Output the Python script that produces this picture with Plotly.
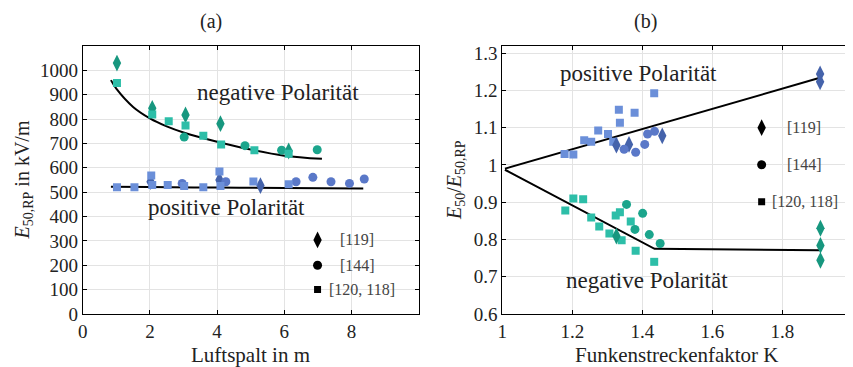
import plotly.graph_objects as go

# ---------------- Panel (a) data ----------------
a_neg_dia_x = [1.02, 2.07, 3.06, 4.10, 6.13]
a_neg_dia_y = [1030, 844, 817, 781, 669]
a_neg_cir_x = [3.02, 4.83, 5.92, 6.98]
a_neg_cir_y = [726, 691, 672, 674]
a_neg_sq_x = [1.02, 2.07, 2.56, 3.06, 3.59, 4.12, 5.11, 6.13]
a_neg_sq_y = [948, 819, 791, 774, 732, 696, 672, 658]
a_neg_fit_x = [0.84, 1.0, 1.5, 2.0, 2.5, 3.0, 4.0, 5.0, 6.0, 7.12]
a_neg_fit_y = [960, 925, 850, 803, 770, 745, 707, 675, 650, 637]

a_pos_dia_x = [2.02, 4.07, 5.29]
a_pos_dia_y = [543, 550, 527]
a_pos_cir_x = [2.96, 4.26, 6.35, 6.85, 7.39, 7.94, 8.38]
a_pos_cir_y = [536, 543, 543, 561, 543, 536, 554]
a_pos_sq_x = [1.02, 1.54, 2.04, 2.07, 2.53, 3.02, 3.59, 4.07, 4.10, 5.08, 6.13]
a_pos_sq_y = [520, 520, 568, 529, 529, 525, 520, 585, 525, 544, 533]
a_pos_fit_x = [0.84, 2.0, 4.0, 6.0, 8.35]
a_pos_fit_y = [522, 521, 519, 517, 515]

a_x_ticks = [0, 2, 4, 6, 8]
a_y_ticks = [0, 100, 200, 300, 400, 500, 600, 700, 800, 900, 1000]

a_leg_x = [6.99, 6.99, 6.99]
a_leg_y = [304, 200, 101]
a_leg_labels = ["[119]", "[144]", "[120, 118]"]
a_leg_label_x = [7.6, 7.6, 7.28]

# ---------------- Panel (b) data ----------------
b_pos_sq_x = [1.178, 1.203, 1.234, 1.254, 1.274, 1.302, 1.317, 1.333, 1.336, 1.378, 1.434]
b_pos_sq_y = [1.029, 1.028, 1.066, 1.062, 1.092, 1.083, 1.062, 1.148, 1.113, 1.140, 1.192]
b_pos_dia_x = [1.326, 1.362, 1.457, 1.908, 1.908]
b_pos_dia_y = [1.053, 1.055, 1.078, 1.244, 1.223]
b_pos_cir_x = [1.348, 1.381, 1.407, 1.415, 1.435]
b_pos_cir_y = [1.042, 1.034, 1.055, 1.083, 1.090]
b_pos_fit_x = [1.0075, 1.905]
b_pos_fit_y = [0.990, 1.233]

b_neg_sq_x = [1.180, 1.203, 1.231, 1.254, 1.277, 1.306, 1.324, 1.336, 1.341, 1.367, 1.381, 1.434]
b_neg_sq_y = [0.878, 0.910, 0.908, 0.859, 0.835, 0.816, 0.864, 0.873, 0.798, 0.848, 0.770, 0.740]
b_neg_cir_x = [1.355, 1.401, 1.379, 1.420, 1.451]
b_neg_cir_y = [0.894, 0.870, 0.827, 0.813, 0.789]
b_neg_dia_x = [1.326, 1.909, 1.909, 1.909]
b_neg_dia_y = [0.809, 0.830, 0.784, 0.744]
b_neg_fit_x = [1.0075, 1.435, 1.905]
b_neg_fit_y = [0.987, 0.775, 0.771]

b_x_ticks = [1, 1.2, 1.4, 1.6, 1.8]
b_x_ticktext = ["1", "1.2", "1.4", "1.6", "1.8"]
b_y_ticks = [0.6, 0.7, 0.8, 0.9, 1.0, 1.1, 1.2, 1.3]
b_y_ticktext = ["0.6", "0.7", "0.8", "0.9", "1", "1.1", "1.2", "1.3"]

b_leg_x = [1.741, 1.741, 1.741]
b_leg_y = [1.100, 1.0005, 0.901]
b_leg_label_x = [1.807, 1.807, 1.764]

# ---------------- Styles ----------------
FONT = "Liberation Serif"
TEAL_DIA = "#17977f"
TEAL_CIR = "#1ba58c"
TEAL_SQ = "#2dbea8"
BLUE_DIA = "#4563ab"
BLUE_CIR = "#5a78c8"
BLUE_SQ = "#6b8fd9"
MS = 9
DS = 12

fig = go.Figure()


def add_marks(x, y, symbol, color, xa, ya, size=MS):
    fig.add_trace(go.Scatter(x=x, y=y, mode="markers", xaxis=xa, yaxis=ya,
                             marker=dict(symbol=symbol, color=color, size=size,
                                         line=dict(width=0)),
                             showlegend=False, hoverinfo="skip"))


def add_line(x, y, xa, ya, shape="spline"):
    fig.add_trace(go.Scatter(x=x, y=y, mode="lines", xaxis=xa, yaxis=ya,
                             line=dict(color="black", width=2, shape=shape),
                             showlegend=False, hoverinfo="skip"))


# Panel (a)
add_line(a_neg_fit_x, a_neg_fit_y, "x", "y")
add_line(a_pos_fit_x, a_pos_fit_y, "x", "y")
add_marks(a_neg_dia_x, a_neg_dia_y, "diamond-tall", TEAL_DIA, "x", "y", DS)
add_marks(a_neg_cir_x, a_neg_cir_y, "circle", TEAL_CIR, "x", "y")
add_marks(a_neg_sq_x, a_neg_sq_y, "square", TEAL_SQ, "x", "y", 8)
add_marks(a_pos_dia_x, a_pos_dia_y, "diamond-tall", BLUE_DIA, "x", "y", DS)
add_marks(a_pos_cir_x, a_pos_cir_y, "circle", BLUE_CIR, "x", "y")
add_marks(a_pos_sq_x, a_pos_sq_y, "square", BLUE_SQ, "x", "y", 8)
add_marks([a_leg_x[0]], [a_leg_y[0]], "diamond-tall", "black", "x", "y", DS)
add_marks([a_leg_x[1]], [a_leg_y[1]], "circle", "black", "x", "y")
add_marks([a_leg_x[2]], [a_leg_y[2]], "square", "black", "x", "y", 7)

# Panel (b)
add_line(b_pos_fit_x, b_pos_fit_y, "x2", "y2", "linear")
add_line(b_neg_fit_x, b_neg_fit_y, "x2", "y2", "linear")
add_marks(b_pos_sq_x, b_pos_sq_y, "square", BLUE_SQ, "x2", "y2", 8)
add_marks(b_pos_dia_x, b_pos_dia_y, "diamond-tall", BLUE_DIA, "x2", "y2", DS)
add_marks(b_pos_cir_x, b_pos_cir_y, "circle", BLUE_CIR, "x2", "y2")
add_marks(b_neg_sq_x, b_neg_sq_y, "square", TEAL_SQ, "x2", "y2", 8)
add_marks(b_neg_cir_x, b_neg_cir_y, "circle", TEAL_CIR, "x2", "y2")
add_marks(b_neg_dia_x, b_neg_dia_y, "diamond-tall", TEAL_DIA, "x2", "y2", DS)
add_marks([b_leg_x[0]], [b_leg_y[0]], "diamond-tall", "black", "x2", "y2", DS)
add_marks([b_leg_x[1]], [b_leg_y[1]], "circle", "black", "x2", "y2")
add_marks([b_leg_x[2]], [b_leg_y[2]], "square", "black", "x2", "y2", 7)

axis_common = dict(showline=True, linecolor="black", linewidth=1, mirror="allticks",
                   ticks="inside", ticklen=4, tickcolor="black", showgrid=True,
                   gridcolor="#e3e3e3", gridwidth=1, zeroline=False, automargin=False,
                   tickfont=dict(family=FONT, size=19, color="#222"))

annotations = []


def ann(text, x, y, xref, yref, xanchor="center", size=17, color="#222", angle=0,
        yanchor="middle"):
    annotations.append(dict(text=text, x=x, y=y, xref=xref, yref=yref, xanchor=xanchor,
                            yanchor=yanchor, showarrow=False, textangle=angle,
                            font=dict(family=FONT, size=size, color=color)))


ann("negative Polarität", 5.81, 908, "x", "y", size=23)
ann("positive Polarität", 4.27, 436, "x", "y", size=23)
for lx, ly, lt in zip(a_leg_label_x, a_leg_y, a_leg_labels):
    ann(lt, lx, ly, "x", "y", xanchor="left", size=16, color="#444")
ann("positive Polarität", 1.388, 1.244, "x2", "y2", size=23)
ann("negative Polarität", 1.412, 0.689, "x2", "y2", size=23)
for lx, ly, lt in zip(b_leg_label_x, b_leg_y, a_leg_labels):
    ann(lt, lx, ly, "x2", "y2", xanchor="left", size=16, color="#444")

# The page body adds an 8px margin, so the figure is drawn 8px in from the window edge.
OFF = 8
W, H = 853 - OFF, 367 - OFF


def px(v):
    return (v - OFF) / W


def py(v):
    return 1 - (v - OFF) / H


ann("(a)", px(211), 1.0, "paper", "paper", size=20, yanchor="top")
ann("(b)", px(645), 1.0, "paper", "paper", size=20, yanchor="top")
ann("Luftspalt in m", px(250), py(355), "paper", "paper", size=21)
ann("Funkenstreckenfaktor K", px(677), py(355), "paper", "paper", size=21)
ann("<i>E</i><sub>50,RP</sub> in kV/m", 0.0, py(180), "paper", "paper", size=20, angle=-90,
    xanchor="left")
ann("<i>E</i><sub>50</sub>/<i>E</i><sub>50,RP</sub>", px(455), py(180), "paper", "paper", size=20, angle=-90)

ydom = [py(314), py(46)]
fig.update_layout(
    width=W, height=H,
    margin=dict(l=0, r=0, t=0, b=0),
    paper_bgcolor="white", plot_bgcolor="white",
    xaxis=dict(domain=[px(82.7), px(418.7)], range=[0, 10], tickvals=a_x_ticks,
               ticktext=[str(v) for v in a_x_ticks], anchor="y", **axis_common),
    yaxis=dict(domain=ydom, range=[0, 1100], tickvals=a_y_ticks,
               ticktext=[str(v) for v in a_y_ticks], anchor="x", **axis_common),
    xaxis2=dict(domain=[px(502.3), min(1.0, px(852.3))], range=[1, 2], tickvals=b_x_ticks,
                ticktext=b_x_ticktext, anchor="y2", **axis_common),
    yaxis2=dict(domain=ydom, range=[0.6, 1.319], tickvals=b_y_ticks,
                ticktext=b_y_ticktext, anchor="x2", **axis_common),
    annotations=annotations,
    showlegend=False,
)

fig.write_html("out.html")
